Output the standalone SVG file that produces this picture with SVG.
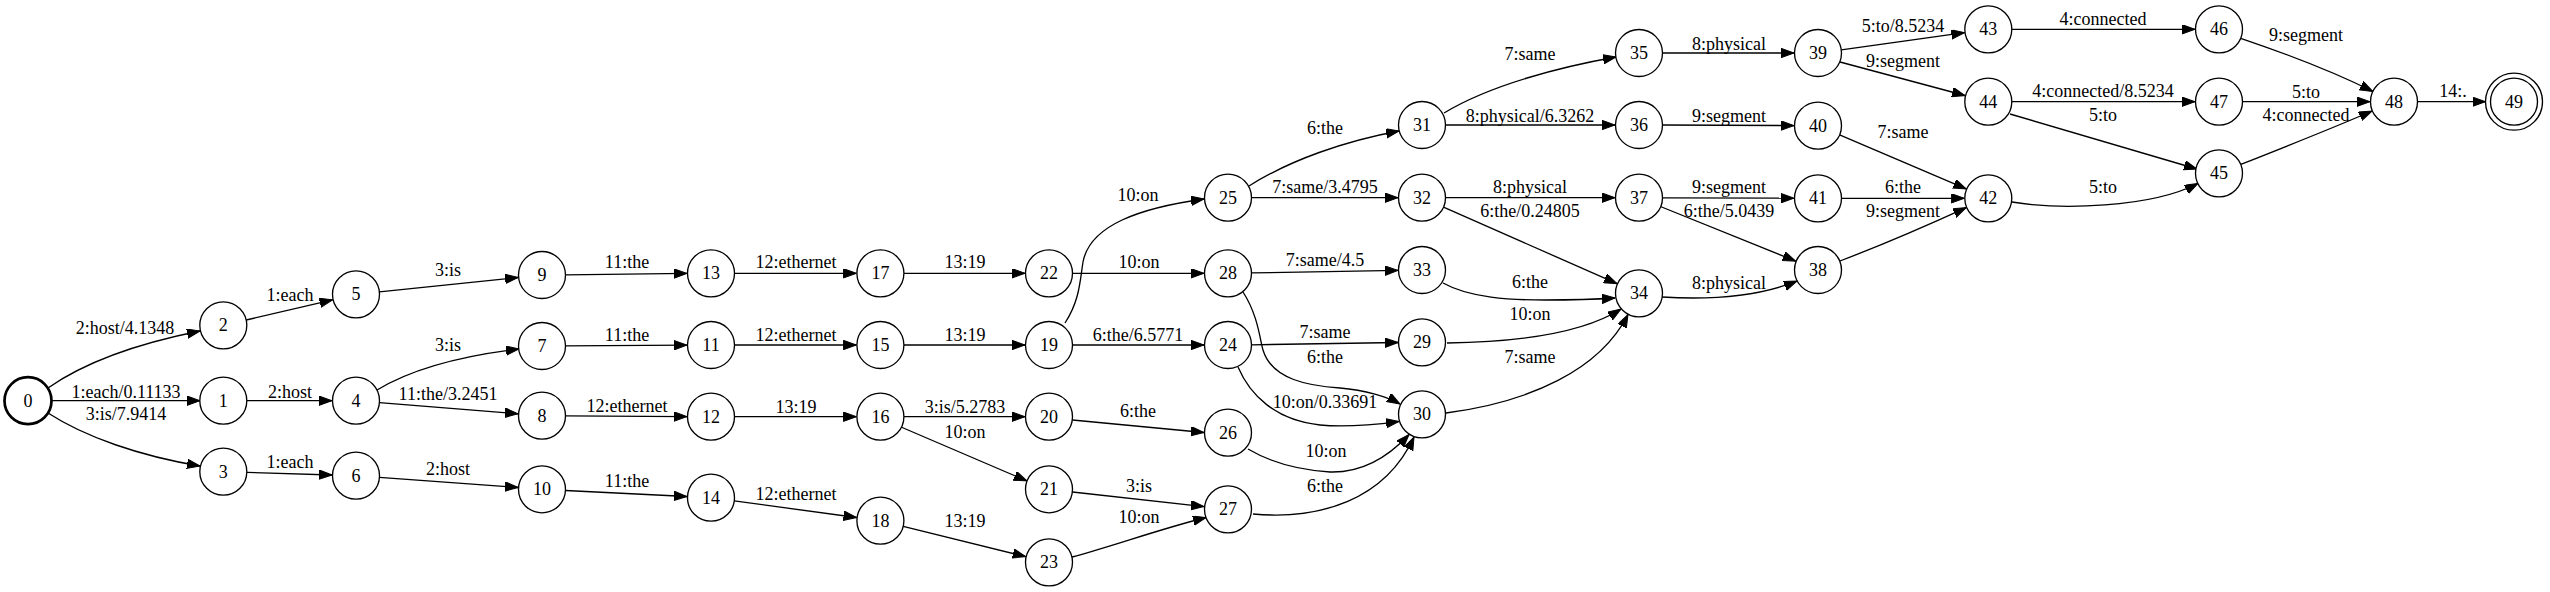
<svg xmlns="http://www.w3.org/2000/svg" width="2550" height="592" viewBox="0 0 2550 592">
<style>
.n ellipse{fill:#fff;stroke:#000;stroke-width:1.33}
.n text{font-family:"Liberation Serif","Times New Roman",serif;font-size:18px;text-anchor:middle;fill:#000}
#edges path{fill:none;stroke:#000;stroke-width:1.33;marker-end:url(#ah)}
#edges text{font-family:"Liberation Serif","Times New Roman",serif;font-size:18px;text-anchor:middle;fill:#000}
</style>
<defs>
<marker id="ah" markerUnits="userSpaceOnUse" markerWidth="14" markerHeight="10" refX="13" refY="4.7" orient="auto">
<path d="M0,0 L13,4.7 L0,9.4 z" fill="#000" stroke="#000" stroke-width="1"/>
</marker>
</defs>
<rect width="2550" height="592" fill="#fff"/>
<g id="edges">
<path d="M48,388 C85,362 140,343 200,331"/><text x="125" y="334">2:host/4.1348</text>
<path d="M51,400.7 L200,400.7"/><text x="126" y="397.7">1:each/0.11133</text>
<path d="M48,413 C85,437 140,456 200,466"/><text x="126" y="420">3:is/7.9414</text>
<path d="M246.2,320 L332.6,299.8"/><text x="290" y="300.7">1:each</text>
<path d="M247,400.7 L332,400.7"/><text x="290" y="397.7">2:host</text>
<path d="M247,472.4 L332,475"/><text x="290" y="468.3">1:each</text>
<path d="M379.4,291.9 L518.1,277.5"/><text x="448" y="275.7">3:is</text>
<path d="M377,390 C410,370 460,356 519,349"/><text x="448" y="350.7">3:is</text>
<path d="M379.4,402.6 L518.1,413.8"/><text x="448" y="400">11:the/3.2451</text>
<path d="M379.4,477.4 L518.1,487.5"/><text x="448" y="475">2:host</text>
<path d="M565.5,274.8 L687,273.4"/><text x="627" y="268.3">11:the</text>
<path d="M565.5,345.9 L687,345.1"/><text x="627" y="341">11:the</text>
<path d="M565.5,415.8 L687,416.6"/><text x="627" y="412.3">12:ethernet</text>
<path d="M565.5,490.5 L687,496.5"/><text x="627" y="487.3">11:the</text>
<path d="M734.5,273.3 L856.4,273.3"/><text x="796" y="268.3">12:ethernet</text>
<path d="M734.5,345 L856.4,345"/><text x="796" y="341">12:ethernet</text>
<path d="M734.5,416.7 L856.4,416.7"/><text x="796" y="413.3">13:19</text>
<path d="M734.3,500.9 L856.6,517.5"/><text x="796" y="500">12:ethernet</text>
<path d="M904,273.3 L1025,273.3"/><text x="965" y="268.3">13:19</text>
<path d="M904,345 L1025,345"/><text x="965" y="341">13:19</text>
<path d="M904,416.7 L1025,416.7"/><text x="965" y="413.3">3:is/5.2783</text>
<path d="M901,427 L1027,481"/><text x="965" y="437.7">10:on</text>
<path d="M903.2,526.3 L1025.7,556.6"/><text x="965" y="527.3">13:19</text>
<path d="M1072.5,273.3 L1204,273.3"/><text x="1139" y="268.3">10:on</text>
<path d="M1065,323 C1080,300 1080,280 1083,262 C1090,225 1140,208 1204,199"/><text x="1138" y="201">10:on</text>
<path d="M1072.5,345 L1204,345"/><text x="1138" y="341">6:the/6.5771</text>
<path d="M1072.5,420 L1204,432.5"/><text x="1138" y="416.7">6:the</text>
<path d="M1072.5,492 L1204,506.6"/><text x="1139" y="491.7">3:is</text>
<path d="M1072,557 C1110,547 1160,529 1206,517.5"/><text x="1139" y="523.3">10:on</text>
<path d="M1249,186 C1290,160 1345,141 1399,131"/><text x="1325" y="134">6:the</text>
<path d="M1251.5,197.7 L1398,197.7"/><text x="1325" y="193.3">7:same/3.4795</text>
<path d="M1251.5,272.9 L1398,270.4"/><text x="1325" y="266">7:same/4.5</text>
<path d="M1243,292 C1258,315 1260,340 1263,350 C1272,380 1310,386 1340,388 C1365,390 1388,397 1400,404"/><text x="1325" y="363.3">6:the</text>
<path d="M1251.5,344.8 L1398,342.5"/><text x="1325" y="338.3">7:same</text>
<path d="M1238,367 C1250,395 1275,420 1320,425 C1350,428 1380,424 1399,421.5"/><text x="1325" y="408.3">10:on/0.33691</text>
<path d="M1248,449 C1270,462 1300,470 1330,472 C1365,473 1390,455 1409,434.5"/><text x="1326" y="456.7">10:on</text>
<path d="M1253,514 C1320,520 1385,500 1414,437"/><text x="1325" y="491.7">6:the</text>
<path d="M1444,113 C1490,85 1560,67 1616,57"/><text x="1530" y="60">7:same</text>
<path d="M1445.5,125 L1615,125"/><text x="1530" y="121.7">8:physical/6.3262</text>
<path d="M1445.5,197.7 L1615,197.7"/><text x="1530" y="193.3">8:physical</text>
<path d="M1443.5,207.2 L1617,283.6"/><text x="1530" y="217.3">6:the/0.24805</text>
<path d="M1443,283 C1470,298 1510,300 1545,300 C1575,300 1600,299 1615,298"/><text x="1530" y="288.3">6:the</text>
<path d="M1447,343 C1520,342 1585,332 1621,309"/><text x="1530" y="320">10:on</text>
<path d="M1446,413 C1530,402 1600,370 1628,314.5"/><text x="1530" y="362.5">7:same</text>
<path d="M1662.5,53 L1794,53"/><text x="1729" y="50">8:physical</text>
<path d="M1662.5,125 L1794,125.6"/><text x="1729" y="121.7">9:segment</text>
<path d="M1662.5,197.8 L1794,198.2"/><text x="1729" y="193.3">9:segment</text>
<path d="M1660.4,206.5 L1795.7,261.1"/><text x="1729" y="217.3">6:the/5.0439</text>
<path d="M1662,297 C1710,300 1760,296 1797,281"/><text x="1729" y="289.3">8:physical</text>
<path d="M1841.3,49.8 L1964.5,32.6"/><text x="1903" y="32.3">5:to/8.5234</text>
<path d="M1840,62 L1965,95.5"/><text x="1903" y="66.7">9:segment</text>
<path d="M1839.6,134.9 L1966.2,188.9"/><text x="1903" y="137.7">7:same</text>
<path d="M1841.5,198.3 L1964.3,198.3"/><text x="1903" y="192.7">6:the</text>
<path d="M1840,261 Q1900,238 1966.2,207.6"/><text x="1903" y="216.7">9:segment</text>
<path d="M2012,29.3 L2195,29.3"/><text x="2103" y="25">4:connected</text>
<path d="M2012,101.7 L2195,101.7"/><text x="2103" y="97.3">4:connected/8.5234</text>
<path d="M2010,114 L2197,169"/><text x="2103" y="120.7">5:to</text>
<path d="M2012,202 C2060,210 2150,208 2198,183.5"/><text x="2103" y="192.7">5:to</text>
<path d="M2240.7,38.3 C2290,55 2340,75 2373,91.5"/><text x="2306" y="40.7">9:segment</text>
<path d="M2242.5,101.7 L2370,101.7"/><text x="2306" y="98.3">5:to</text>
<path d="M2240.8,164.4 C2290,145 2340,125 2372,111"/><text x="2306" y="120.7">4:connected</text>
<path d="M2417.5,101.7 L2485.5,101.7"/><text x="2453" y="97.3">14:.</text>
</g>
<g id="n0" class="n"><ellipse cx="28" cy="400.7" rx="23.5" ry="23.5" style="stroke-width:2.7"/><text x="28" y="406.7">0</text></g>
<g id="n1" class="n"><ellipse cx="223.3" cy="400.7" rx="23.5" ry="23.5"/><text x="223.3" y="406.7">1</text></g>
<g id="n2" class="n"><ellipse cx="223.3" cy="325.3" rx="23.5" ry="23.5"/><text x="223.3" y="331.3">2</text></g>
<g id="n3" class="n"><ellipse cx="223.3" cy="471.7" rx="23.5" ry="23.5"/><text x="223.3" y="477.7">3</text></g>
<g id="n4" class="n"><ellipse cx="356" cy="400.7" rx="23.5" ry="23.5"/><text x="356" y="406.7">4</text></g>
<g id="n5" class="n"><ellipse cx="356" cy="294.3" rx="23.5" ry="23.5"/><text x="356" y="300.3">5</text></g>
<g id="n6" class="n"><ellipse cx="356" cy="475.7" rx="23.5" ry="23.5"/><text x="356" y="481.7">6</text></g>
<g id="n7" class="n"><ellipse cx="542" cy="346" rx="23.5" ry="23.5"/><text x="542" y="352">7</text></g>
<g id="n8" class="n"><ellipse cx="542" cy="415.7" rx="23.5" ry="23.5"/><text x="542" y="421.7">8</text></g>
<g id="n9" class="n"><ellipse cx="542" cy="275" rx="23.5" ry="23.5"/><text x="542" y="281">9</text></g>
<g id="n10" class="n"><ellipse cx="542" cy="489.3" rx="23.5" ry="23.5"/><text x="542" y="495.3">10</text></g>
<g id="n11" class="n"><ellipse cx="711" cy="345" rx="23.5" ry="23.5"/><text x="711" y="351">11</text></g>
<g id="n12" class="n"><ellipse cx="711" cy="416.7" rx="23.5" ry="23.5"/><text x="711" y="422.7">12</text></g>
<g id="n13" class="n"><ellipse cx="711" cy="273.3" rx="23.5" ry="23.5"/><text x="711" y="279.3">13</text></g>
<g id="n14" class="n"><ellipse cx="711" cy="497.7" rx="23.5" ry="23.5"/><text x="711" y="503.7">14</text></g>
<g id="n15" class="n"><ellipse cx="880.4" cy="345" rx="23.5" ry="23.5"/><text x="880.4" y="351">15</text></g>
<g id="n16" class="n"><ellipse cx="880.4" cy="416.7" rx="23.5" ry="23.5"/><text x="880.4" y="422.7">16</text></g>
<g id="n17" class="n"><ellipse cx="880.4" cy="273.3" rx="23.5" ry="23.5"/><text x="880.4" y="279.3">17</text></g>
<g id="n18" class="n"><ellipse cx="880.4" cy="520.7" rx="23.5" ry="23.5"/><text x="880.4" y="526.7">18</text></g>
<g id="n19" class="n"><ellipse cx="1049" cy="345" rx="23.5" ry="23.5"/><text x="1049" y="351">19</text></g>
<g id="n20" class="n"><ellipse cx="1049" cy="416.7" rx="23.5" ry="23.5"/><text x="1049" y="422.7">20</text></g>
<g id="n21" class="n"><ellipse cx="1049" cy="489.3" rx="23.5" ry="23.5"/><text x="1049" y="495.3">21</text></g>
<g id="n22" class="n"><ellipse cx="1049" cy="273.3" rx="23.5" ry="23.5"/><text x="1049" y="279.3">22</text></g>
<g id="n23" class="n"><ellipse cx="1049" cy="562.3" rx="23.5" ry="23.5"/><text x="1049" y="568.3">23</text></g>
<g id="n24" class="n"><ellipse cx="1228" cy="345" rx="23.5" ry="23.5"/><text x="1228" y="351">24</text></g>
<g id="n25" class="n"><ellipse cx="1228" cy="197.7" rx="23.5" ry="23.5"/><text x="1228" y="203.7">25</text></g>
<g id="n26" class="n"><ellipse cx="1228" cy="432.7" rx="23.5" ry="23.5"/><text x="1228" y="438.7">26</text></g>
<g id="n27" class="n"><ellipse cx="1228" cy="509.3" rx="23.5" ry="23.5"/><text x="1228" y="515.3">27</text></g>
<g id="n28" class="n"><ellipse cx="1228" cy="273.3" rx="23.5" ry="23.5"/><text x="1228" y="279.3">28</text></g>
<g id="n29" class="n"><ellipse cx="1422" cy="342.3" rx="23.5" ry="23.5"/><text x="1422" y="348.3">29</text></g>
<g id="n30" class="n"><ellipse cx="1422" cy="414.3" rx="23.5" ry="23.5"/><text x="1422" y="420.3">30</text></g>
<g id="n31" class="n"><ellipse cx="1422" cy="125" rx="23.5" ry="23.5"/><text x="1422" y="131">31</text></g>
<g id="n32" class="n"><ellipse cx="1422" cy="197.7" rx="23.5" ry="23.5"/><text x="1422" y="203.7">32</text></g>
<g id="n33" class="n"><ellipse cx="1422" cy="270" rx="23.5" ry="23.5"/><text x="1422" y="276">33</text></g>
<g id="n34" class="n"><ellipse cx="1639" cy="293.3" rx="23.5" ry="23.5"/><text x="1639" y="299.3">34</text></g>
<g id="n35" class="n"><ellipse cx="1639" cy="53" rx="23.5" ry="23.5"/><text x="1639" y="59">35</text></g>
<g id="n36" class="n"><ellipse cx="1639" cy="125" rx="23.5" ry="23.5"/><text x="1639" y="131">36</text></g>
<g id="n37" class="n"><ellipse cx="1639" cy="197.7" rx="23.5" ry="23.5"/><text x="1639" y="203.7">37</text></g>
<g id="n38" class="n"><ellipse cx="1818" cy="270" rx="23.5" ry="23.5"/><text x="1818" y="276">38</text></g>
<g id="n39" class="n"><ellipse cx="1818" cy="53" rx="23.5" ry="23.5"/><text x="1818" y="59">39</text></g>
<g id="n40" class="n"><ellipse cx="1818" cy="125.7" rx="23.5" ry="23.5"/><text x="1818" y="131.7">40</text></g>
<g id="n41" class="n"><ellipse cx="1818" cy="198.3" rx="23.5" ry="23.5"/><text x="1818" y="204.3">41</text></g>
<g id="n42" class="n"><ellipse cx="1988.3" cy="198.3" rx="23.5" ry="23.5"/><text x="1988.3" y="204.3">42</text></g>
<g id="n43" class="n"><ellipse cx="1988.3" cy="29.3" rx="23.5" ry="23.5"/><text x="1988.3" y="35.3">43</text></g>
<g id="n44" class="n"><ellipse cx="1988.3" cy="101.7" rx="23.5" ry="23.5"/><text x="1988.3" y="107.7">44</text></g>
<g id="n45" class="n"><ellipse cx="2219" cy="173.3" rx="23.5" ry="23.5"/><text x="2219" y="179.3">45</text></g>
<g id="n46" class="n"><ellipse cx="2219" cy="29.3" rx="23.5" ry="23.5"/><text x="2219" y="35.3">46</text></g>
<g id="n47" class="n"><ellipse cx="2219" cy="101.7" rx="23.5" ry="23.5"/><text x="2219" y="107.7">47</text></g>
<g id="n48" class="n"><ellipse cx="2394" cy="101.7" rx="23.5" ry="23.5"/><text x="2394" y="107.7">48</text></g>
<g id="n49" class="n"><ellipse cx="2514" cy="101.7" rx="28.5" ry="28.5"/><ellipse cx="2514" cy="101.7" rx="23.5" ry="23.5"/><text x="2514" y="107.7">49</text></g>
</svg>
